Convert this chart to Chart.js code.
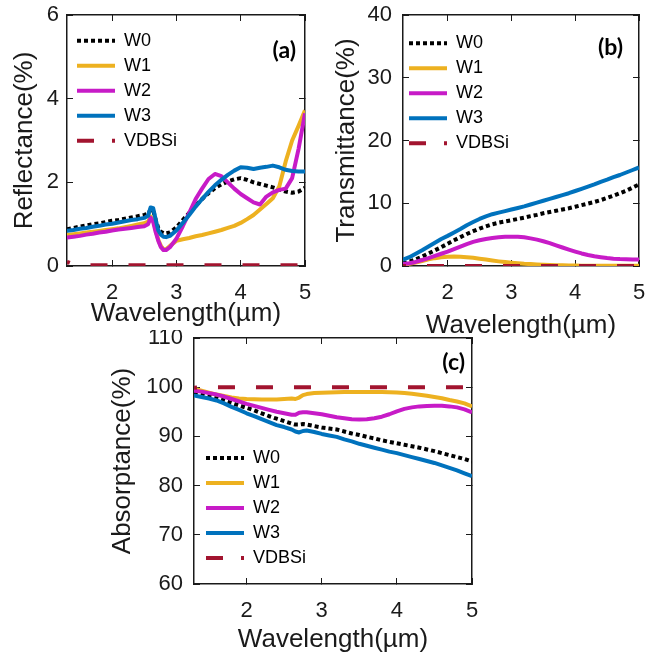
<!DOCTYPE html>
<html><head><meta charset="utf-8">
<script src="https://cdn.jsdelivr.net/npm/chart.js@4.4.1/dist/chart.umd.min.js"></script>
<style>
html,body{margin:0;padding:0;background:#fff;width:666px;height:655px;overflow:hidden;position:relative}
canvas{position:absolute}
</style></head><body>
<canvas id="ca" width="333" height="330" style="left:0px;top:0px"></canvas>
<canvas id="cb" width="333" height="345" style="left:333px;top:0px"></canvas>
<canvas id="cc" width="420" height="325" style="left:95px;top:330px"></canvas>
<script>
// ---------- data ----------
const seriesNames = ['W0', 'W1', 'W2', 'W3', 'VDBSi'];
const xTicks = [2, 3, 4, 5];
const yTicksR = [0, 2, 4, 6];
const yTicksT = [0, 10, 20, 30, 40];
const yTicksA = [60, 70, 80, 90, 100, 110];

// (a) reflectance
const wlR = [1.3,1.4,1.5,1.6,1.7,1.8,1.9,2.0,2.1,2.2,2.3,2.4,2.5,2.56,2.6,2.64,2.68,2.72,2.76,2.8,2.84,2.9,3.0,3.1,3.2,3.3,3.4,3.5,3.6,3.7,3.8,3.9,4.0,4.1,4.2,4.3,4.4,4.5,4.6,4.7,4.8,4.9,5.0];
const reflW0 = [0.88,0.91,0.94,0.97,1.0,1.02,1.05,1.08,1.1,1.13,1.16,1.19,1.22,1.25,1.35,1.33,1.1,0.9,0.82,0.79,0.78,0.8,0.92,1.1,1.27,1.44,1.6,1.74,1.86,1.95,2.02,2.07,2.1,2.06,2.0,1.96,1.92,1.88,1.83,1.78,1.75,1.78,1.87];
const reflW1 = [0.74,0.76,0.78,0.8,0.82,0.84,0.86,0.88,0.9,0.93,0.96,0.99,1.02,1.06,1.18,1.1,0.85,0.62,0.48,0.4,0.4,0.48,0.6,0.64,0.67,0.71,0.74,0.78,0.82,0.86,0.91,0.96,1.03,1.12,1.22,1.35,1.48,1.62,1.9,2.5,3.0,3.35,3.72];
const reflW2 = [0.68,0.7,0.72,0.75,0.77,0.8,0.82,0.85,0.87,0.89,0.91,0.93,0.95,1.0,1.15,1.05,0.8,0.6,0.45,0.38,0.38,0.45,0.65,0.95,1.27,1.6,1.85,2.08,2.2,2.15,2.0,1.85,1.72,1.62,1.52,1.47,1.66,1.76,1.82,1.85,2.1,2.8,3.65];
const reflW3 = [0.84,0.86,0.89,0.91,0.94,0.96,0.99,1.01,1.04,1.07,1.1,1.12,1.15,1.2,1.4,1.38,1.1,0.85,0.75,0.7,0.69,0.72,0.85,1.03,1.22,1.42,1.6,1.77,1.93,2.06,2.18,2.28,2.36,2.35,2.32,2.35,2.37,2.4,2.36,2.3,2.27,2.26,2.26];
const reflVDBSi = [0.1,0.04,0.03,0.02,0.02,0.02,0.02,0.02,0.02,0.02,0.02,0.02,0.02,0.02,0.02,0.02,0.02,0.02,0.02,0.02,0.02,0.02,0.02,0.02,0.02,0.02,0.02,0.02,0.02,0.02,0.02,0.02,0.02,0.02,0.02,0.02,0.02,0.02,0.02,0.02,0.02,0.02,0.02];

// (b) transmittance
const wlT = [1.3,1.4,1.5,1.6,1.7,1.8,1.9,2.0,2.1,2.2,2.3,2.4,2.5,2.6,2.7,2.8,2.9,3.0,3.1,3.2,3.3,3.4,3.5,3.6,3.7,3.8,3.9,4.0,4.1,4.2,4.3,4.4,4.5,4.6,4.7,4.8,4.9,5.0];
const transW0 = [0.4,0.7,1.05,1.5,2.0,2.5,3.0,3.55,4.1,4.6,5.1,5.55,5.95,6.3,6.65,6.9,7.1,7.3,7.5,7.7,7.95,8.15,8.4,8.6,8.8,9.0,9.2,9.45,9.7,9.95,10.2,10.5,10.85,11.2,11.6,12.0,12.5,13.0];
const transW1 = [0.15,0.35,0.55,0.8,1.05,1.25,1.4,1.48,1.5,1.47,1.4,1.3,1.17,1.03,0.88,0.74,0.62,0.52,0.43,0.35,0.3,0.25,0.2,0.16,0.12,0.1,0.08,0.06,0.05,0.05,0.05,0.05,0.05,0.05,0.05,0.05,0.05,0.05];
const transW2 = [0.3,0.45,0.65,0.95,1.25,1.6,1.95,2.3,2.7,3.1,3.5,3.85,4.1,4.3,4.45,4.57,4.65,4.67,4.65,4.57,4.4,4.2,3.95,3.65,3.3,2.95,2.62,2.3,2.0,1.75,1.55,1.4,1.27,1.17,1.1,1.07,1.05,1.05];
const transW3 = [1.0,1.4,1.95,2.5,3.1,3.7,4.3,4.8,5.35,5.9,6.5,7.0,7.5,7.9,8.25,8.5,8.75,9.0,9.25,9.5,9.8,10.1,10.4,10.7,11.0,11.3,11.6,11.95,12.3,12.65,13.0,13.4,13.75,14.15,14.5,14.9,15.3,15.7];
const transVDBSi = [0,0,0,0,0,0,0,0,0,0,0,0,0,0,0,0,0,0,0,0,0,0,0,0,0,0,0,0,0,0,0,0,0,0,0,0,0,0];

// (c) absorptance
const wlA = [1.3,1.4,1.5,1.6,1.7,1.8,1.9,2.0,2.1,2.2,2.3,2.4,2.5,2.6,2.65,2.7,2.75,2.8,2.9,3.0,3.1,3.2,3.3,3.4,3.5,3.6,3.7,3.8,3.9,4.0,4.1,4.2,4.3,4.4,4.5,4.6,4.7,4.8,4.9,5.0];
const absW0 = [99.0,98.6,98.2,97.8,97.3,96.8,96.3,95.8,95.3,94.7,94.1,93.6,93.1,92.6,92.4,92.4,92.5,92.4,92.1,91.8,91.6,91.4,91.0,90.6,90.3,89.9,89.6,89.2,88.9,88.6,88.3,88.0,87.7,87.35,87.0,86.6,86.2,85.8,85.4,84.9];
const absW1 = [99.7,99.3,98.9,98.5,98.2,97.9,97.7,97.6,97.55,97.5,97.5,97.5,97.6,97.7,97.6,97.9,98.4,98.6,98.8,98.85,98.9,98.95,99.0,99.0,99.0,99.0,99.0,99.0,98.95,98.9,98.8,98.65,98.45,98.25,98.0,97.75,97.4,97.1,96.7,96.1];
const absW2 = [99.3,99.1,98.8,98.5,98.1,97.6,97.1,96.6,96.2,95.8,95.4,95.0,94.7,94.4,94.4,94.8,94.9,94.9,94.7,94.5,94.2,93.9,93.7,93.5,93.45,93.5,93.7,94.0,94.5,95.1,95.6,95.9,96.1,96.2,96.25,96.25,96.1,95.9,95.5,94.9];
const absW3 = [98.3,98.0,97.7,97.3,96.7,96.0,95.4,94.7,94.1,93.5,92.9,92.3,91.9,91.4,91.0,90.8,91.1,91.2,90.9,90.5,90.2,89.9,89.4,89.0,88.5,88.1,87.7,87.3,86.9,86.6,86.2,85.8,85.4,85.0,84.6,84.1,83.6,83.1,82.5,81.9];
const absVDBSi = [99.9,100,100,100,100,100,100,100,100,100,100,100,100,100,100,100,100,100,100,100,100,100,100,100,100,100,100,100,100,100,100,100,100,100,100,100,100,100,100,100];

// ---------- styling ----------
const FONT = '"Liberation Sans", Arial, sans-serif';
const INK = '#1a1a1a';
const LINE_W = 4;
const styles = [
  {color: '#000000', dash: [4, 3], offset: 0, legendDash: [4, 3]},
  {color: '#EDB120', dash: [], offset: 0, legendDash: []},
  {color: '#C71BC7', dash: [], offset: 0, legendDash: []},
  {color: '#0072BD', dash: [], offset: 0, legendDash: []},
  {color: '#A2142F', dash: [17, 21], offset: 14, legendDash: [17, 18]}
];

function makeDatasets(xs, ys) {
  return ys.map((arr, i) => ({
    label: seriesNames[i],
    data: xs.map((x, j) => ({x: x, y: arr[j]})),
    borderColor: styles[i].color,
    backgroundColor: styles[i].color,
    borderWidth: LINE_W,
    borderDash: styles[i].dash,
    borderDashOffset: styles[i].offset,
    borderJoinStyle: 'round',
    borderCapStyle: 'butt',
    pointRadius: 0, pointHoverRadius: 0, pointHitRadius: 0,
    pointStyle: 'line',
    fill: false, tension: 0,
    order: ys.length - i
  }));
}

function legendLabels(chart) {
  const items = Chart.defaults.plugins.legend.labels.generateLabels(chart);
  items.forEach(it => {
    const ds = chart.data.datasets[it.datasetIndex];
    it.lineDash = styles[it.datasetIndex].legendDash;
    it.lineDashOffset = 0;
    it.lineWidth = ds.borderWidth;
    it.strokeStyle = ds.borderColor;
    it.fillStyle = ds.borderColor;
    it.lineCap = 'butt';
    it.pointStyle = 'line';
    it.fontColor = '#000';
  });
  return items;
}

function zeroPad(s) { s.paddingTop = 0; s.paddingBottom = 0; s.paddingLeft = 0; s.paddingRight = 0; }

function axis(pos, min, max, ticks, showLabels, size, tickPad, title, titlePad) {
  const horiz = (pos === 'top' || pos === 'bottom');
  return {
    type: 'linear', position: pos, min: min, max: max,
    afterBuildTicks: s => { s.ticks = ticks.map(v => ({value: v})); },
    afterFit: s => { if (horiz) s.height = size; else s.width = size; zeroPad(s); },
    ticks: {display: showLabels, color: INK, font: {family: FONT, size: 22}, padding: tickPad, maxRotation: 0, autoSkip: false},
    grid: {drawOnChartArea: false, drawTicks: true, tickLength: -6, color: INK, lineWidth: 1},
    border: {display: true, color: INK, width: 1.5},
    title: title ? {display: true, text: title, color: INK, font: {family: FONT, size: 26, lineHeight: 1},
      padding: horiz ? {top: 0, bottom: titlePad} : {top: titlePad, bottom: 0}} : {display: false}
  };
}

function makePanel(id, p) {
  const placeLegend = {
    id: 'placeLegend',
    afterLayout(chart) {
      const lg = chart.legend; if (!lg) return;
      const pad = lg.options.labels.padding;
      lg.left = p.legX - pad;
      lg.top = p.legY - 9 - pad;
      lg.bottom = lg.top + 1000;
    }
  };
  const panelLabel = {
    id: 'panelLabel',
    afterDraw(chart) {
      const ctx = chart.ctx, a = chart.chartArea;
      ctx.save();
      ctx.font = 'bold 23px Lato, "Open Sans", sans-serif';
      ctx.fillStyle = '#000'; ctx.textAlign = 'right'; ctx.textBaseline = 'middle';
      ctx.fillText(p.label, a.right - p.labRight, a.top + p.labY);
      ctx.restore();
    }
  };
  return new Chart(document.getElementById(id), {
    type: 'line',
    data: {datasets: makeDatasets(p.xs, p.ys)},
    options: {
      responsive: false, animation: false, devicePixelRatio: 1,
      layout: {padding: p.pad},
      scales: {
        x: axis('bottom', 1.3, 5, xTicks, true, p.xH, 20, 'Wavelength(\u00b5m)', p.xTitlePad),
        x2: axis('top', 1.3, 5, xTicks, false, 0, 0, null, 0),
        y: axis('left', p.yMin, p.yMax, p.yTicks, true, p.yW, p.yTickPad, p.yTitle, p.yTitlePad),
        y2: axis('right', p.yMin, p.yMax, p.yTicks, false, 0, 0, null, 0)
      },
      plugins: {
        tooltip: {enabled: false},
        legend: {
          position: 'chartArea', align: 'start',
          labels: {usePointStyle: true, pointStyle: 'line', pointStyleWidth: 38, boxWidth: 38, boxHeight: 18,
            padding: 7, color: '#000', font: {family: FONT, size: 18},
            generateLabels: legendLabels,
            sort: (a, b) => a.datasetIndex - b.datasetIndex}
        }
      }
    },
    plugins: [placeLegend, panelLabel]
  });
}

makePanel('ca', {
  xs: wlR, ys: [reflW0, reflW1, reflW2, reflW3, reflVDBSi],
  yMin: 0, yMax: 6, yTicks: yTicksR, yTitle: 'Reflectance(%)',
  pad: {left: 0, top: 15, right: 28, bottom: 0}, yW: 67, xH: 64,
  yTitlePad: 12, xTitlePad: 3, yTickPad: 14,
  legX: 77, legY: 40.7, label: '(a)', labRight: 9, labY: 35.5
});
makePanel('cb', {
  xs: wlT, ys: [transW0, transW1, transW2, transW3, transVDBSi],
  yMin: 0, yMax: 40, yTicks: yTicksT, yTitle: 'Transmittance(%)',
  pad: {left: 0, top: 15, right: 27, bottom: 0}, yW: 70, xH: 79,
  yTitlePad: 1, xTitlePad: 6, yTickPad: 17,
  legX: 76, legY: 43.3, label: '(b)', labRight: 16, labY: 32.5
});
makePanel('cc', {
  xs: wlA, ys: [absW0, absW1, absW2, absW3, absVDBSi],
  yMin: 60, yMax: 110, yTicks: yTicksA, yTitle: 'Absorptance(%)',
  pad: {left: 0, top: 8, right: 43, bottom: 0}, yW: 99, xH: 71,
  yTitlePad: 15, xTitlePad: 2, yTickPad: 17,
  legX: 111, legY: 128, label: '(c)', labRight: 7, labY: 25
});
</script>
</body></html>
